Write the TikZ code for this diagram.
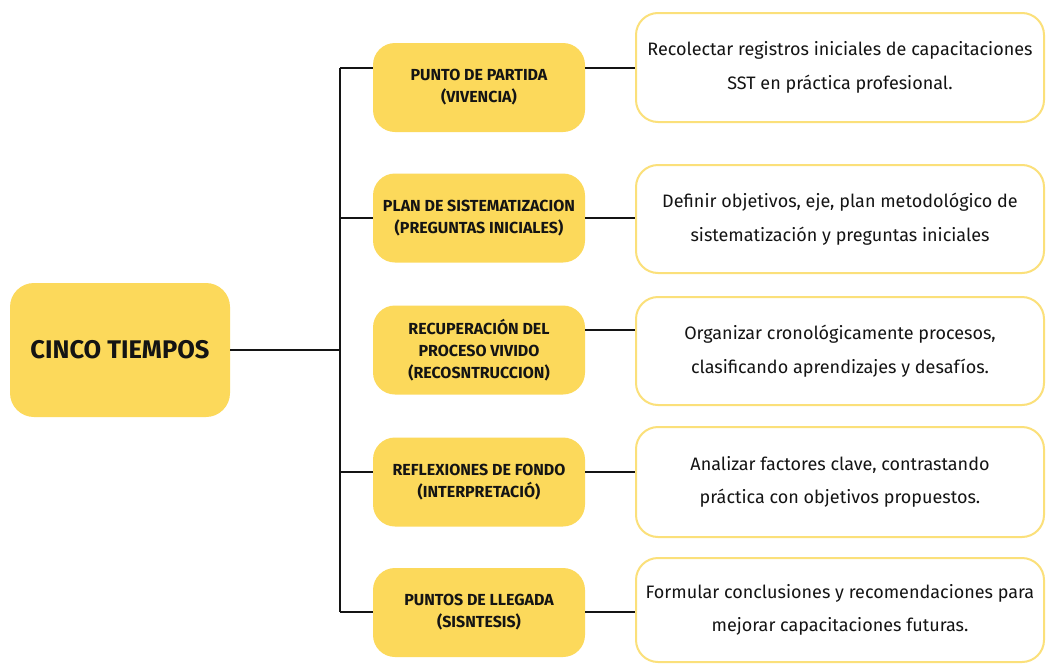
\documentclass[tikz,border=0pt]{standalone}
\usepackage{fontspec}
\setmainfont{Fira Sans}
\definecolor{yfill}{HTML}{FCD95B}
\definecolor{yline}{HTML}{FBE07A}
\definecolor{ink}{HTML}{141414}
\begin{document}
\begin{tikzpicture}[x=1pt,y=-1pt,
  mainbox/.style={fill=yfill,rounded corners=24pt,minimum width=220pt,minimum height=134pt,inner sep=0pt,
    font=\fontsize{25.5}{30}\selectfont\bfseries,text=ink},
  stagebox/.style={fill=yfill,rounded corners=22pt,minimum width=212pt,minimum height=89pt,inner sep=0pt,
    align=center,font=\fontsize{16}{22}\selectfont\bfseries,text=ink},
  descbox/.style={draw=yline,line width=2pt,fill=white,rounded corners=22pt,minimum width=408pt,inner sep=0pt,
    align=center,font=\fontsize{18}{33.5}\selectfont,text=ink},
  link/.style={draw=ink,line width=2.6pt}]
\useasboundingbox (0,0) rectangle (1047,664);
\fill[white] (0,0) rectangle (1047,664);

\node[mainbox] (c) at (120,350) {CINCO TIEMPOS};

\node[stagebox] (y1) at (479,87.5) {PUNTO DE PARTIDA\\(VIVENCIA)};
\node[stagebox] (y2) at (479,218) {PLAN DE SISTEMATIZACION\\(PREGUNTAS INICIALES)};
\node[stagebox] (y3) at (479,350) {RECUPERACIÓN DEL\\PROCESO VIVIDO\\(RECOSNTRUCCION)};
\node[stagebox] (y4) at (479,482) {REFLEXIONES DE FONDO\\(INTERPRETACIÓ)};
\node[stagebox] (y5) at (479,612.5) {PUNTOS DE LLEGADA\\(SISNTESIS)};

\node[descbox,minimum height=109pt] (w1) at (840,67.5) {Recolectar registros iniciales de capacitaciones\\SST en práctica profesional.};
\node[descbox,minimum height=108pt] (w2) at (840,219) {Definir objetivos, eje, plan metodológico de\\sistematización y preguntas iniciales};
\node[descbox,minimum height=108pt] (w3) at (840,351) {Organizar cronológicamente procesos,\\clasificando aprendizajes y desafíos.};
\node[descbox,minimum height=110pt] (w4) at (840,482) {Analizar factores clave, contrastando\\práctica con objetivos propuestos.};
\node[descbox,minimum height=104pt] (w5) at (840,610) {Formular conclusiones y recomendaciones para\\mejorar capacitaciones futuras.};

\coordinate (t1) at (340,68);
\coordinate (t2) at (340,218);
\coordinate (t4) at (340,472);
\coordinate (t5) at (340,612);
\coordinate (r3) at (585,330);

\draw[link] (t1) -- (t5);
\draw[link] (c.east) -- (c.east -| t1);
\draw[link] (t1) -- (y1.west |- t1);
\draw[link] (t2) -- (y2.west |- t2);
\draw[link] (t4) -- (y4.west |- t4);
\draw[link] (t5) -- (y5.west |- t5);

\draw[link] (y1.east |- t1) -- (w1.west |- t1);
\draw[link] (y2.east |- t2) -- (w2.west |- t2);
\draw[link] (r3) -- (w3.west |- r3);
\draw[link] (y4.east |- t4) -- (w4.west |- t4);
\draw[link] (y5.east |- t5) -- (w5.west |- t5);
\end{tikzpicture}
\end{document}
